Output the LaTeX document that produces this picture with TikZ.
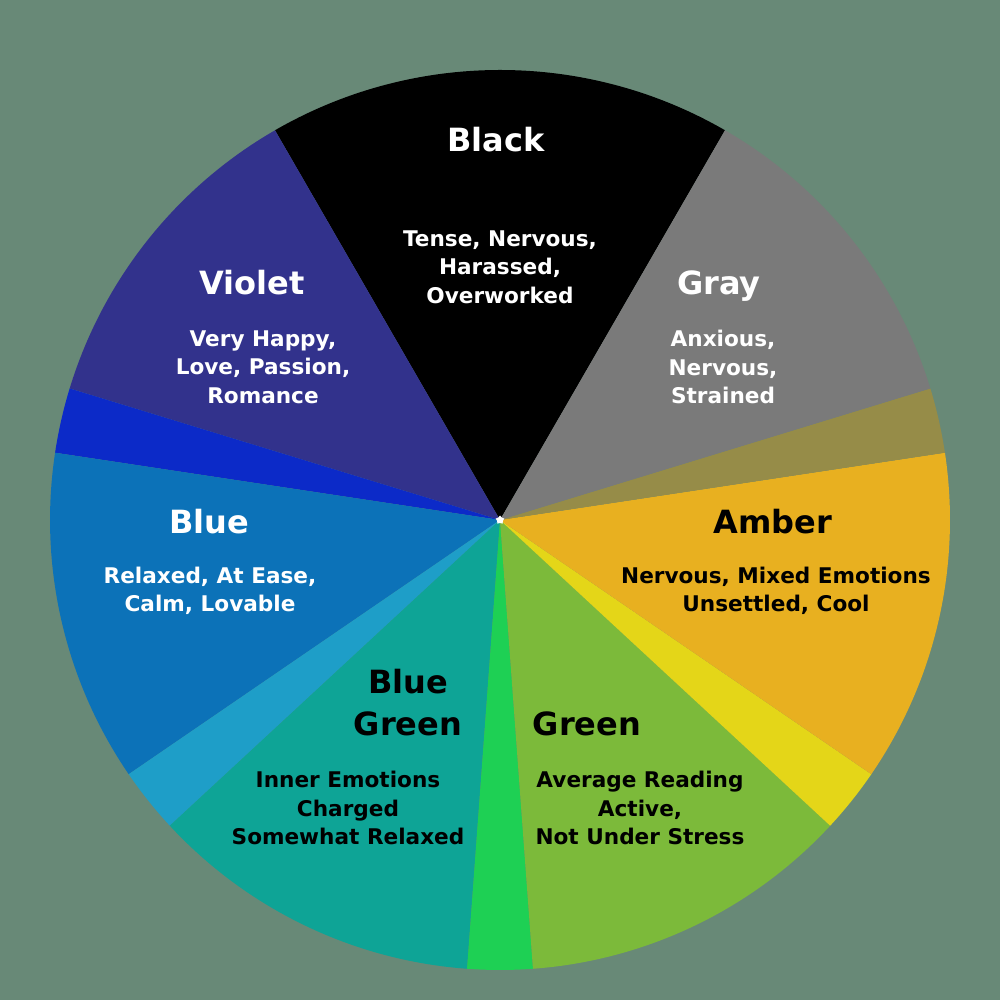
\documentclass[tikz,border=0pt]{standalone}
\usepackage{fontspec}
\setmainfont{DejaVu Sans}
\usetikzlibrary{shapes.geometric}
\definecolor{bg}{RGB}{104,137,119}
\definecolor{cblack}{RGB}{0,0,0}
\definecolor{cgray}{RGB}{122,122,122}
\definecolor{cbrown}{RGB}{150,140,72}
\definecolor{camber}{RGB}{232,176,32}
\definecolor{cyellow}{RGB}{228,214,24}
\definecolor{cgreen}{RGB}{124,186,58}
\definecolor{cbgreen}{RGB}{30,208,84}
\definecolor{cteal}{RGB}{14,164,150}
\definecolor{clblue}{RGB}{30,158,200}
\definecolor{cblue}{RGB}{12,114,184}
\definecolor{cdblue}{RGB}{12,42,200}
\definecolor{cviolet}{RGB}{50,50,140}
\tikzset{
  ttl/.style={font=\bfseries\fontsize{32}{42}\selectfont, align=center, inner sep=0pt},
  bdy/.style={font=\bfseries\fontsize{21.6}{28.5}\selectfont, align=center, inner sep=0pt},
}
\newcommand{\piewedge}[3]{\fill[#1] (500,480) -- ++(#2:450) arc[start angle=#2, end angle=#3, radius=450] -- cycle;}
\begin{document}
\begin{tikzpicture}[x=1pt,y=1pt]
\fill[bg] (0,0) rectangle (1000,1000);
\useasboundingbox (0,0) rectangle (1000,1000);
\coordinate (c) at (500,480);
\piewedge{cblack}{60}{120}
\piewedge{cviolet}{120}{163}
\piewedge{cdblue}{163}{171.4}
\piewedge{cblue}{171.4}{214.4}
\piewedge{clblue}{214.4}{222.8}
\piewedge{cteal}{222.8}{265.8}
\piewedge{cbgreen}{265.8}{274.2}
\piewedge{cgreen}{274.2}{317.2}
\piewedge{cyellow}{317.2}{325.6}
\piewedge{camber}{325.6}{368.6}
\piewedge{cbrown}{8.6}{17}
\piewedge{cgray}{17}{60}
\node[star, star points=5, fill=white, minimum size=9pt, inner sep=0pt] (st) at (c) {};
% texts
\node[ttl, white] (tblack) at (496,860) {Black};
\node[bdy, white] (bblack) at (500,733) {Tense, Nervous,\\Harassed,\\Overworked};
\node[ttl, white] (tviolet) at (252,717) {Violet};
\node[bdy, white] (bviolet) at (263,633) {Very Happy,\\Love, Passion,\\Romance};
\node[ttl, white] (tgray) at (719,714) {Gray};
\node[bdy, white] (bgray) at (723,633) {Anxious,\\Nervous,\\Strained};
\node[ttl, white] (tblue) at (209,478) {Blue};
\node[bdy, white] (bblue) at (210,409) {Relaxed, At Ease,\\Calm, Lovable};
\node[ttl, black] (tamber) at (773,478) {Amber};
\node[bdy, black] (bamber) at (776,409) {Nervous, Mixed Emotions\\Unsettled, Cool};
\node[ttl, black] (tbg) at (408,297) {Blue\\Green};
\node[bdy, black] (bbg) at (348,192) {Inner Emotions\\Charged\\Somewhat Relaxed};
\node[ttl, black] (tgreen) at (587,276) {Green};
\node[bdy, black] (bgreen) at (640,192) {Average Reading\\Active,\\Not Under Stress};
\end{tikzpicture}
\end{document}
